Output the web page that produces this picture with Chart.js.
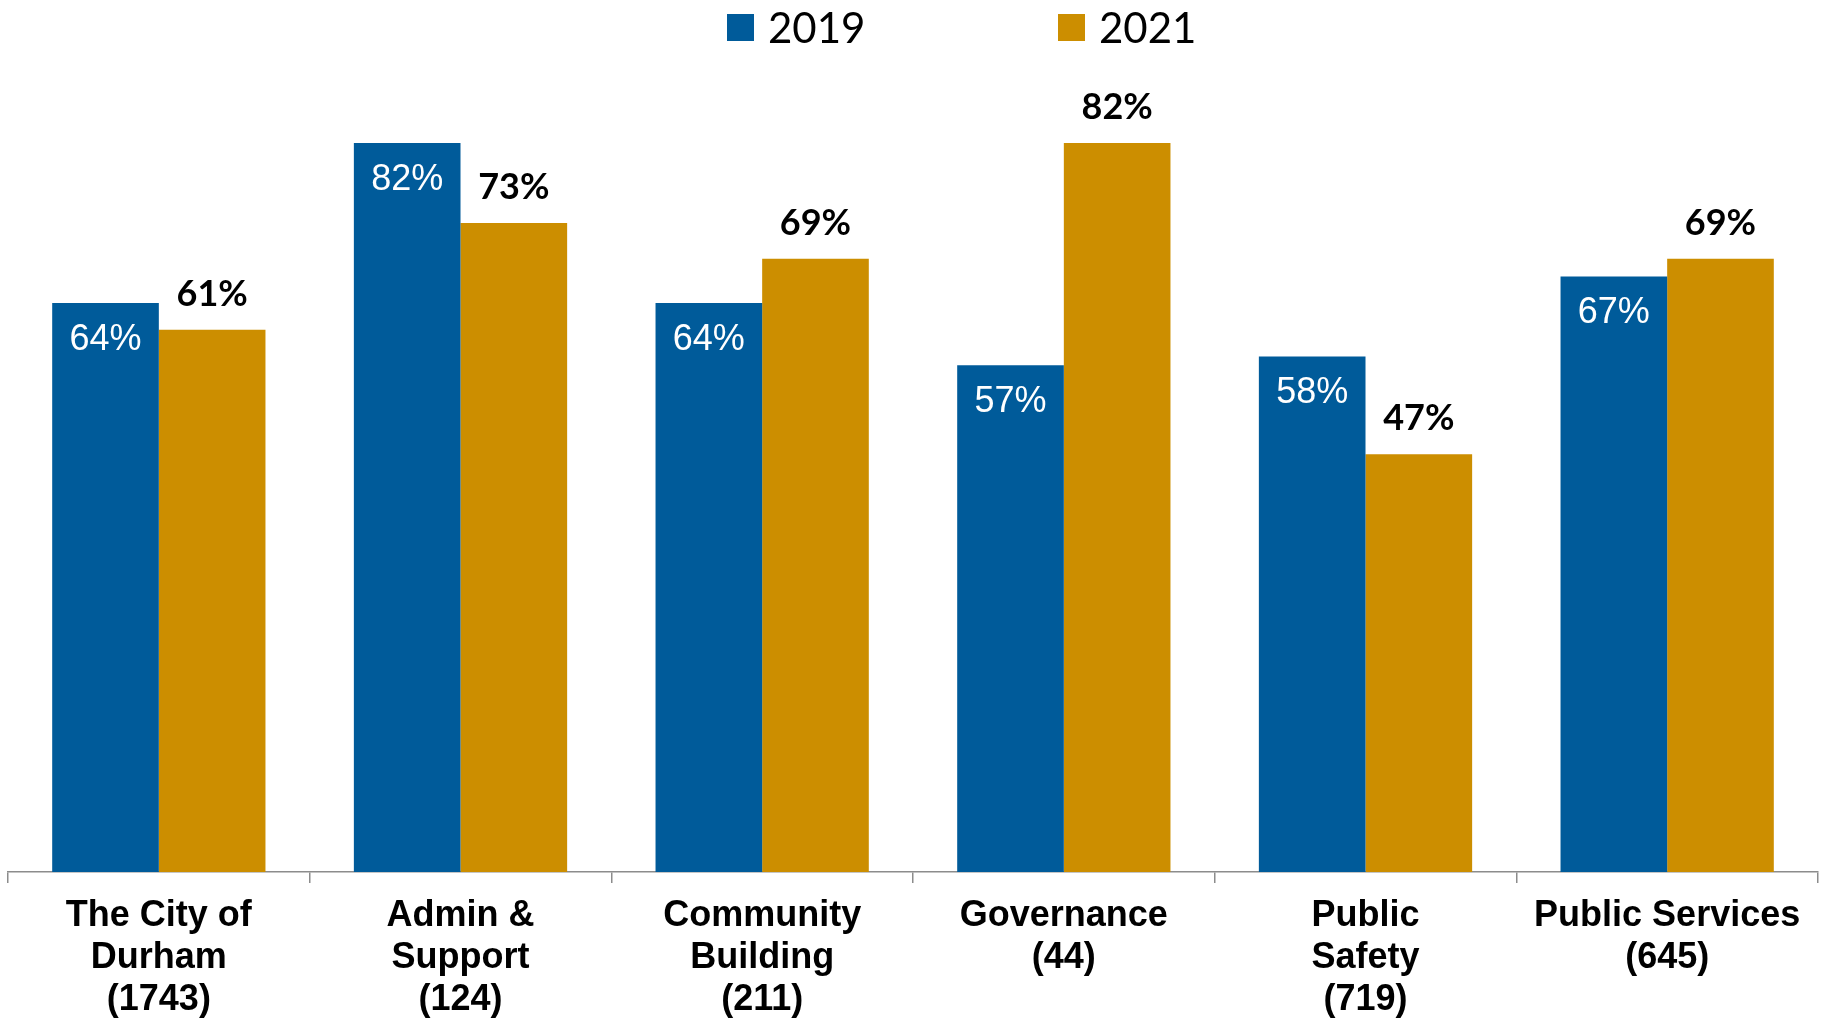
<!DOCTYPE html>
<html>
<head>
<meta charset="utf-8">
<title>Survey results 2019 vs 2021</title>
<script src="https://cdn.jsdelivr.net/npm/chart.js@4"></script>
<style>
    html, body { margin: 0; padding: 0; background: #fff; }
    #wrap { width: 1829px; height: 1023px; position: relative; }
</style>
</head>
<body>
<div id="wrap"><canvas id="chartContainer"></canvas></div>
<script>
const categories = [
    ['The City of', 'Durham', '(1743)'],
    ['Admin &', 'Support', '(124)'],
    ['Community', 'Building', '(211)'],
    ['Governance', '(44)'],
    ['Public', 'Safety', '(719)'],
    ['Public Services', '(645)'],
];
const years = ['2019', '2021'];
const values2019 = [64, 82, 64, 57, 58, 67];
const values2021 = [61, 73, 69, 82, 47, 69];

const BLUE = '#005b9a';
const GOLD = '#cc8e00';
const AXIS_GREY = '#8c8c8c';

// legend drawn by hand so the two entries can sit far apart
const legendPlugin = {
    id: 'spacedLegend',
    afterDraw(chart) {
        const ctx = chart.ctx;
        const boxSize = 27;
        const starts = [727, 1058];
        const colors = [BLUE, GOLD];
        ctx.save();
        ctx.font = '42px Lato, "Open Sans", sans-serif';
        ctx.textBaseline = 'alphabetic';
        ctx.textAlign = 'left';
        years.forEach((label, i) => {
            ctx.fillStyle = colors[i];
            ctx.fillRect(starts[i], 14, boxSize, boxSize);
            ctx.fillStyle = '#000';
            ctx.fillText(label, starts[i] + boxSize + 14, 43);
        });
        ctx.restore();
    }
};

// percentage labels: white inside the 2019 bars, bold black above the 2021 bars
const valueLabels = {
    id: 'valueLabels',
    afterDatasetsDraw(chart) {
        const ctx = chart.ctx;
        ctx.save();
        ctx.textAlign = 'center';
        ctx.textBaseline = 'alphabetic';
        chart.data.datasets.forEach((ds, di) => {
            const meta = chart.getDatasetMeta(di);
            meta.data.forEach((bar, i) => {
                const txt = ds.data[i] + '%';
                if (di === 0) {
                    ctx.font = '36px "Liberation Sans", Arial, sans-serif';
                    ctx.fillStyle = '#fff';
                    ctx.fillText(txt, bar.x, bar.y + 47);
                } else {
                    ctx.font = 'bold 36px Lato, "Open Sans", sans-serif';
                    ctx.fillStyle = '#000';
                    ctx.fillText(txt, bar.x, bar.y - 24);
                }
            });
        });
        ctx.restore();
    }
};

new Chart(document.getElementById('chartContainer'), {
    type: 'bar',
    data: {
        labels: categories,
        datasets: [
            { label: years[0], data: values2019, backgroundColor: BLUE },
            { label: years[1], data: values2021, backgroundColor: GOLD },
        ]
    },
    options: {
        responsive: true,
        maintainAspectRatio: false,
        animation: false,
        layout: { padding: { top: 72, left: 8, right: 11, bottom: 2 } },
        datasets: {
            bar: { categoryPercentage: 0.707, barPercentage: 1.0 }
        },
        plugins: {
            legend: { display: false },
            tooltip: { enabled: false }
        },
        scales: {
            x: {
                // labels may run into the bottom padding a little
                afterFit(scale) { scale.height -= 12; },
                grid: {
                    display: true,
                    drawOnChartArea: false,
                    drawTicks: true,
                    tickLength: 11,
                    color: AXIS_GREY,
                    lineWidth: 1.5
                },
                border: { display: true, color: AXIS_GREY, width: 1.5 },
                ticks: {
                    color: '#000',
                    padding: 12,
                    maxRotation: 0,
                    autoSkip: false,
                    font: {
                        family: '"Liberation Sans", Arial, sans-serif',
                        size: 36,
                        weight: 'bold',
                        lineHeight: 1.167
                    }
                }
            },
            y: {
                display: false,
                min: 0,
                max: 90
            }
        }
    },
    plugins: [legendPlugin, valueLabels]
});
</script>
</body>
</html>
